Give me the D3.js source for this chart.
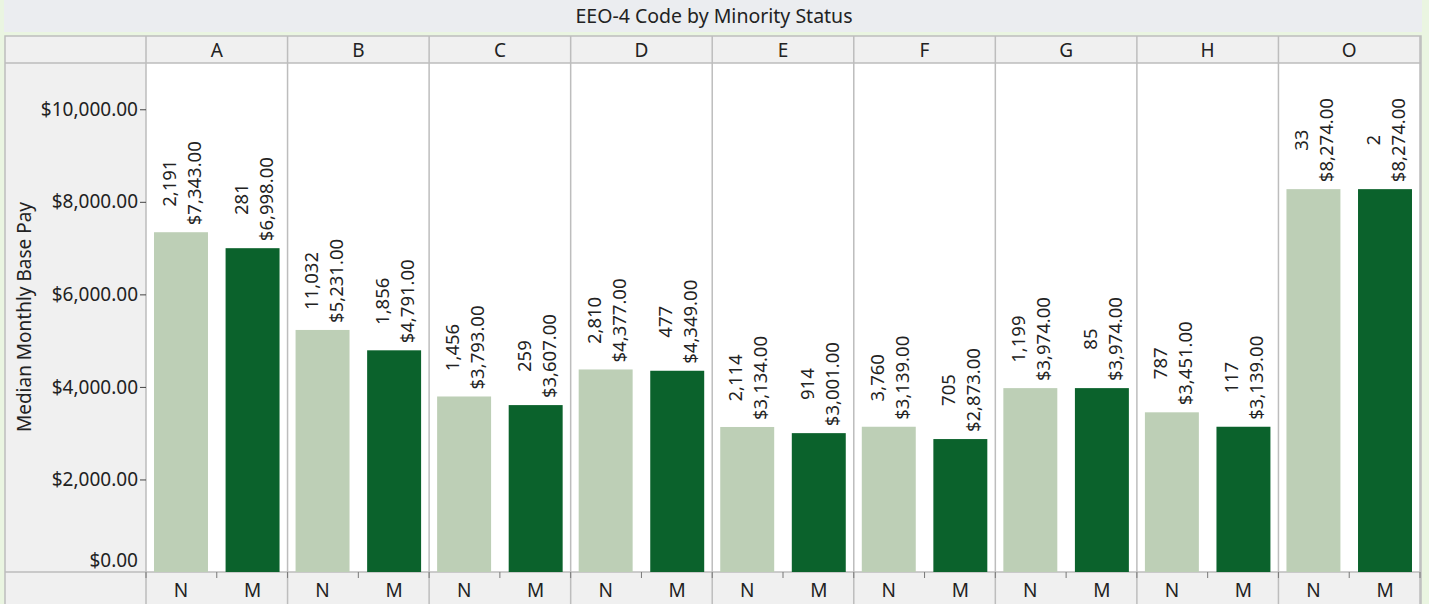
<!DOCTYPE html>
<html>
<head>
<meta charset="utf-8">
<script src="https://cdn.jsdelivr.net/npm/d3@7"></script>
<style>
  body { margin: 0; background: #eaf5e1; }
  svg { display: block; font-family: "Noto Sans", sans-serif; }
</style>
</head>
<body>
<div id="chart"></div>
<script>
// données
const codes = ["A", "B", "C", "D", "E", "F", "G", "H", "O"];
const statuts = ["N", "M"];
const paieN = [7343, 5231, 3793, 4377, 3134, 3139, 3974, 3451, 8274];
const paieM = [6998, 4791, 3607, 4349, 3001, 2873, 3974, 3139, 8274];
const nombreN = [2191, 11032, 1456, 2810, 2114, 3760, 1199, 787, 33];
const nombreM = [281, 1856, 259, 477, 914, 705, 85, 117, 2];
const yTicks = [0, 2000, 4000, 6000, 8000, 10000];

const width = 1429;
const height = 604;
const fs = 19;

// cadre
const gauche = 5, droite = 1421, haut = 36, enteteBas = 63, plotBas = 572;
const plotGauche = 146, plotDroite = 1420;

const couleurs = { N: "#bdcfb6", M: "#0b622c" };
const trait = "#bdbdbd";

// construction des données
const donnees = [];
codes.forEach(function (c, i) {
    donnees.push({ code: c, statut: "N", paie: paieN[i], nombre: nombreN[i] });
    donnees.push({ code: c, statut: "M", paie: paieM[i], nombre: nombreM[i] });
});

const svg = d3.select("#chart").append("svg")
    .attr("width", width)
    .attr("height", height);

// bandeau du titre
svg.append("rect").attr("x", 4).attr("y", 0).attr("width", 1418).attr("height", 32).attr("fill", "#ebedf0");
svg.append("text")
    .attr("x", 714).attr("y", 23)
    .attr("text-anchor", "middle")
    .attr("font-size", 19.5)
    .attr("fill", "#222")
    .text("EEO-4 Code by Minority Status");

// fond du cadre
svg.append("rect").attr("x", gauche).attr("y", haut).attr("width", droite - gauche).attr("height", height - haut)
    .attr("fill", "#f0f0f0");
svg.append("rect").attr("x", plotGauche).attr("y", enteteBas).attr("width", plotDroite - plotGauche).attr("height", plotBas - enteteBas)
    .attr("fill", "#fff");

// échelles
const x = d3.scaleBand().domain(codes).range([plotGauche, plotDroite]);
const xs = d3.scaleBand().domain(statuts).range([0, x.bandwidth()]).paddingInner(0.246).paddingOuter(0.112);
const y = d3.scaleLinear().domain([0, 11000]).range([plotBas, enteteBas]);

// lignes du cadre
const lignes = svg.append("g").attr("stroke", trait).attr("stroke-width", 1.5).attr("fill", "none");
lignes.append("rect").attr("x", gauche).attr("y", haut).attr("width", droite - gauche).attr("height", height - haut + 5);
lignes.append("line").attr("x1", gauche).attr("x2", droite).attr("y1", enteteBas).attr("y2", enteteBas);
lignes.append("line").attr("x1", gauche).attr("x2", droite).attr("y1", plotBas).attr("y2", plotBas);
lignes.selectAll(".sep")
    .data(codes)
    .join("line")
    .attr("class", "sep")
    .attr("x1", function (d) { return x(d); })
    .attr("x2", function (d) { return x(d); })
    .attr("y1", haut).attr("y2", height);
lignes.append("line").attr("x1", plotDroite).attr("x2", plotDroite).attr("y1", haut).attr("y2", height);

// en-têtes des panneaux
svg.selectAll(".entete")
    .data(codes)
    .join("text")
    .attr("class", "entete")
    .attr("x", function (d) { return x(d) + x.bandwidth() / 2; })
    .attr("y", 57)
    .attr("text-anchor", "middle")
    .attr("font-size", fs)
    .attr("fill", "#222")
    .text(function (d) { return d; });

// barres
svg.selectAll(".barre")
    .data(donnees)
    .join("rect")
    .attr("class", "barre")
    .attr("x", function (d) { return x(d.code) + xs(d.statut); })
    .attr("width", xs.bandwidth())
    .attr("y", function (d) { return y(d.paie); })
    .attr("height", function (d) { return y(0) - y(d.paie); })
    .attr("fill", function (d) { return couleurs[d.statut]; });

// étiquettes verticales (nombre puis médiane)
const fmtN = d3.format(",");
const fmtP = d3.format("$,.2f");
const etiquettes = svg.selectAll(".etiq")
    .data(donnees)
    .join("g")
    .attr("class", "etiq")
    .attr("font-size", 18.5)
    .attr("fill", "#222");

etiquettes.each(function (d) {
    const g = d3.select(this);
    const cx = x(d.code) + xs(d.statut) + xs.bandwidth() / 2;
    const t1 = g.append("text").attr("text-anchor", "middle").text(fmtN(d.nombre));
    const t2 = g.append("text").attr("text-anchor", "middle").text(fmtP(d.paie));
    const long = Math.max(t1.node().getComputedTextLength(), t2.node().getComputedTextLength());
    const cy = y(d.paie) - 7 - long / 2;
    t1.attr("transform", "translate(" + (cx - 5) + "," + cy + ") rotate(-90)");
    t2.attr("transform", "translate(" + (cx + 20) + "," + cy + ") rotate(-90)");
});

// axe Y
const axeY = svg.append("g")
    .attr("transform", "translate(" + plotGauche + ",0)")
    .call(d3.axisLeft(y).tickValues(yTicks).tickFormat(fmtP).tickSize(6).tickPadding(2));
axeY.select(".domain").remove();
axeY.selectAll(".tick line").attr("stroke", "#444");
axeY.selectAll(".tick text")
    .attr("font-size", fs)
    .attr("font-family", "Noto Sans, sans-serif")
    .attr("fill", "#222");
axeY.selectAll(".tick").filter(function (d) { return d === 0; })
    .each(function () {
        d3.select(this).select("line").remove();
        d3.select(this).select("text").attr("dy", "-0.3em");
    });

svg.append("text")
    .attr("transform", "translate(31," + 317 + ") rotate(-90)")
    .attr("text-anchor", "middle")
    .attr("font-size", fs)
    .attr("fill", "#222")
    .text("Median Monthly Base Pay");

// axe X (N / M) et petits repères
const repX = [];
codes.forEach(function (c) {
    repX.push(x(c));
    repX.push(x(c) + x.bandwidth() / 2);
});
repX.push(plotDroite);
svg.selectAll(".rep")
    .data(repX)
    .join("line")
    .attr("class", "rep")
    .attr("x1", function (d) { return d; })
    .attr("x2", function (d) { return d; })
    .attr("y1", plotBas)
    .attr("y2", plotBas + 6)
    .attr("stroke", "#777")
    .attr("stroke-width", 1);

svg.selectAll(".lbx")
    .data(donnees)
    .join("text")
    .attr("class", "lbx")
    .attr("x", function (d) { return x(d.code) + xs(d.statut) + xs.bandwidth() / 2; })
    .attr("y", 597)
    .attr("text-anchor", "middle")
    .attr("font-size", fs)
    .attr("fill", "#222")
    .text(function (d) { return d.statut; });
</script>
</body>
</html>
